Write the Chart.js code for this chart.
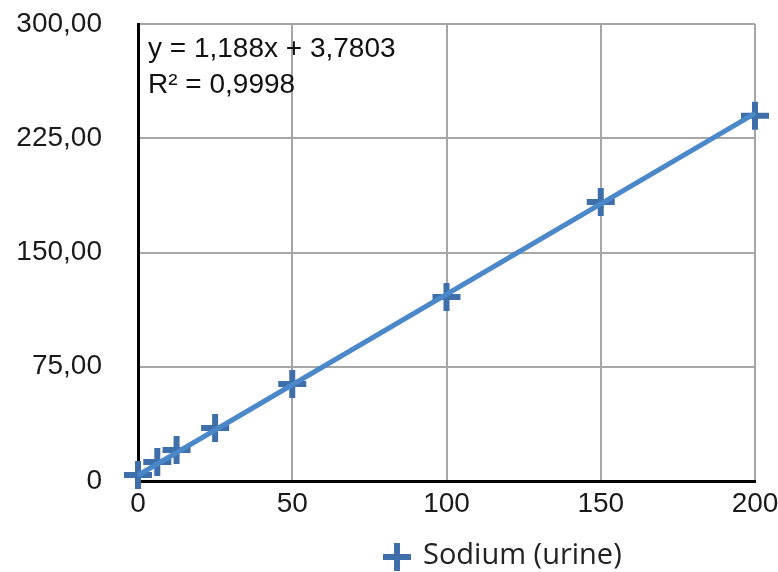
<!DOCTYPE html>
<html>
<head>
<meta charset="utf-8">
<script src="https://cdn.jsdelivr.net/npm/chart.js@4.4.1/dist/chart.umd.min.js"></script>
<style>
  html, body { margin: 0; padding: 0; background: #fff; }
  #wrap { width: 778px; height: 572px; position: relative; }
</style>
</head>
<body>
<div id="wrap"><canvas id="calChart"></canvas></div>
<script>
// Calibration points
const concX = [0, 6.25, 12.5, 25, 50, 100, 150, 200];
const measY = [3.9, 12.5, 20.4, 34.8, 63.7, 120.8, 183.2, 239.7];

// Linear trend line end points (y = 1,188x + 3,7803)
const trendX = [0, 200];
const trendY = [3.78, 241.38];

const xTicks = [0, 50, 100, 150, 200];
const yTicks = [0, 75, 150, 225, 300];

const seriesName = 'Sodium (urine)';
const eqLines = ['y = 1,188x + 3,7803', 'R\u00b2 = 0,9998'];

const tickFont = { family: '"Liberation Sans", Arial, sans-serif', size: 28 };
const markerColor = '#3f6faa';
const lineColor = '#4a88c9';

const overlay = {
    id: 'overlay',
    afterDraw(chart) {
        const ctx = chart.ctx;
        const area = chart.chartArea;
        ctx.save();
        // equation box text
        ctx.fillStyle = '#111';
        ctx.font = '28px "Liberation Sans", Arial, sans-serif';
        ctx.textBaseline = 'middle';
        ctx.textAlign = 'left';
        ctx.fillText(eqLines[0], area.left + 10, area.top + 25);
        ctx.fillText(eqLines[1], area.left + 10, area.top + 61);

        // legend
        const lx = 397, ly = 557;
        ctx.strokeStyle = markerColor;
        ctx.lineWidth = 6;
        ctx.beginPath();
        ctx.moveTo(lx - 14, ly); ctx.lineTo(lx + 14, ly);
        ctx.moveTo(lx, ly - 14); ctx.lineTo(lx, ly + 14);
        ctx.stroke();
        ctx.fillStyle = '#222';
        ctx.font = '29px "Open Sans", "Noto Sans", sans-serif';
        ctx.fillText(seriesName, 423, ly - 1);
        ctx.restore();
    }
};

const ctx = document.getElementById('calChart').getContext('2d');
new Chart(ctx, {
    type: 'scatter',
    data: {
        datasets: [{
            label: 'Trend',
            type: 'line',
            data: trendX.map((x, i) => ({ x: x, y: trendY[i] })),
            borderColor: lineColor,
            borderWidth: 5,
            pointRadius: 0,
            fill: false,
            clip: false,
            order: 0
        }, {
            label: seriesName,
            data: concX.map((x, i) => ({ x: x, y: measY[i] })),
            pointStyle: 'cross',
            pointRadius: 14,
            pointBorderWidth: 6,
            borderColor: markerColor,
            backgroundColor: markerColor,
            clip: false,
            order: 1
        }]
    },
    options: {
        responsive: true,
        maintainAspectRatio: false,
        animation: false,
        layout: { padding: { top: 24, right: 23, left: 0, bottom: 0 } },
        scales: {
            x: {
                type: 'linear',
                min: 0,
                max: 200,
                afterBuildTicks: s => { s.ticks = xTicks.map(v => ({ value: v })); },
                afterFit: s => { s.height = 91; s.paddingLeft = 0; s.paddingRight = 0; },
                grid: { color: '#a6a6a6', lineWidth: 2, drawTicks: false },
                border: { color: '#000', width: 3 },
                ticks: { color: '#1a1a1a', font: tickFont, padding: 6, maxRotation: 0 }
            },
            y: {
                min: 0,
                max: 300,
                afterBuildTicks: s => { s.ticks = yTicks.map(v => ({ value: v })); },
                afterFit: s => { s.width = 138; s.paddingTop = 0; s.paddingBottom = 0; },
                grid: { color: '#a6a6a6', lineWidth: 2, drawTicks: false },
                border: { color: '#000', width: 3 },
                ticks: {
                    color: '#1a1a1a',
                    font: tickFont,
                    padding: 36,
                    callback: v => v === 0 ? '0' : v.toFixed(2).replace('.', ',')
                }
            }
        },
        plugins: {
            legend: { display: false },
            tooltip: { enabled: false }
        }
    },
    plugins: [overlay]
});
</script>
</body>
</html>
